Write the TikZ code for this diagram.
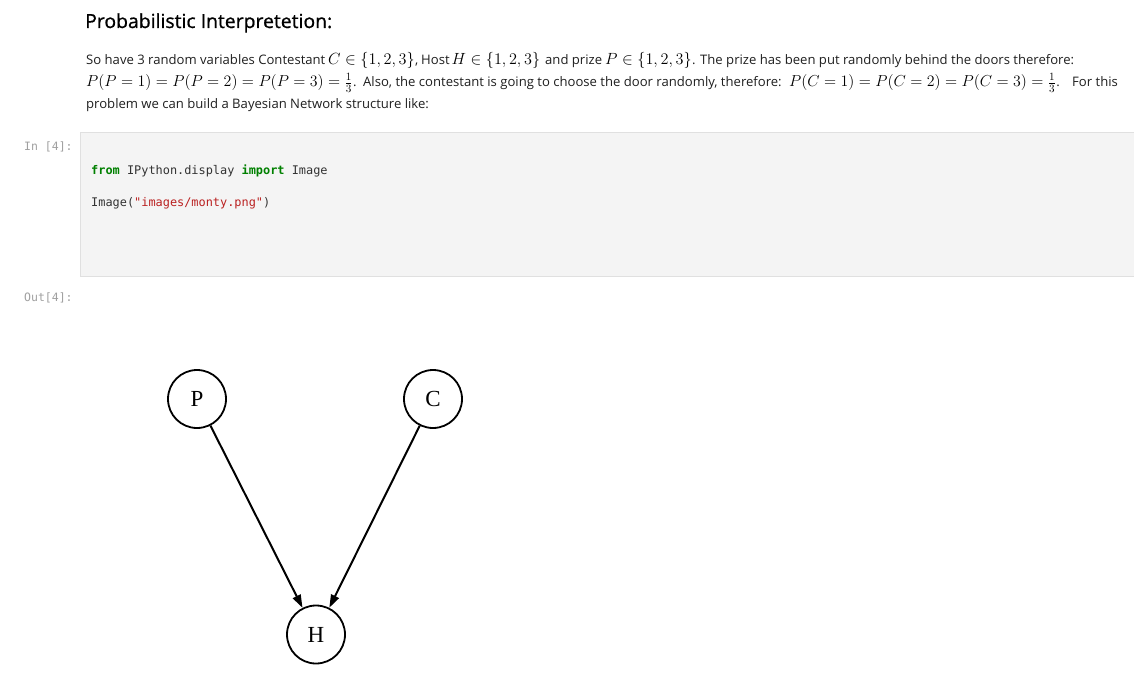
\RequirePackage{fix-cm}
\documentclass[tikz,border=0pt]{standalone}
\usepackage{fontspec}
\setmainfont{Open Sans}
\setmonofont{DejaVu Sans Mono}
\newfontfamily\nodefont{Liberation Serif}
\newfontfamily\titlefont[FakeBold=0.8]{Open Sans}
\usetikzlibrary{arrows.meta}
\definecolor{txt}{HTML}{1F1F1F}
\definecolor{prompt}{HTML}{A0A0A0}
\definecolor{cellbg}{HTML}{F4F4F4}
\definecolor{cellbd}{HTML}{E0E0E0}
\definecolor{kw}{HTML}{008000}
\definecolor{str}{HTML}{BA2121}
\definecolor{code}{HTML}{333333}
\tikzset{
  body/.style={anchor=base west, inner sep=0pt, text=txt, font=\fontsize{13.1}{16}\selectfont},
  mth/.style={anchor=base west, inner sep=0pt, text=black, font=\fontsize{16.2}{18}\selectfont},
  mthb/.style={anchor=base west, inner sep=0pt, text=black, font=\fontsize{15.9}{18}\selectfont},
  title/.style={anchor=base west, inner sep=0pt, text=black, font=\fontsize{19.4}{22}\titlefont},
  promptstyle/.style={anchor=base west, inner sep=0pt, text=prompt, font=\fontsize{11.5}{14}\ttfamily},
  codestyle/.style={anchor=base west, inner sep=0pt, text=code, font=\fontsize{11.9}{14}\ttfamily},
  var/.style={circle, draw=black, line width=1.8pt, minimum size=58pt, inner sep=0pt, font=\fontsize{23}{26}\nodefont},
  edge/.style={line width=2pt, -{Triangle[length=13pt,width=8.5pt]}}
}
\begin{document}
\begin{tikzpicture}[x=1pt,y=-1pt]
\fill[white] (0,0) rectangle (1134,695);
\useasboundingbox (0,0) rectangle (1134,695);
\node[title] (ttl) at (85,28) {Probabilistic Interpretetion:};
% line 1
\node[body] (a1) at (86,65) {So have 3 random variables Contestant};
\node[mth] (m1) at (328,65) {$C \in \{1,2,3\}$};
\node[body] (a2) at (m1.base east) {,};
\node[body] (a3) at (421,65) {Host};
\node[mth] (m2) at (451.5,65) {$H \in \{1,2,3\}$};
\node[body] (a4) at (545,65) {and prize};
\node[mth] (m3) at (605,65) {$P \in \{1,2,3\}$};
\node[body] (a5) at (m3.base east) {.};
\node[body] (a6) at (700,65) {The prize has been put randomly behind the doors therefore:};
% line 2
\node[mthb] (m4) at (86,87) {$P(P=1)=P(P=2)=P(P=3)=\frac{1}{3}$};
\node[body] (b1) at (m4.base east) {.};
\node[body] (b2) at (363,87) {Also, the contestant is going to choose the door randomly, therefore:};
\node[mthb] (m5) at (789,87) {$P(C=1)=P(C=2)=P(C=3)=\frac{1}{3}$};
\node[body] (b3) at (m5.base east) {.};
\node[body] (b4) at (1072,87) {For this};
% line 3
\node[body] (c0) at (86,108.5) {problem we can build a Bayesian Network structure like:};
% code cell
\node[promptstyle] (in) at (24,151) {In [4]:};
\draw[fill=cellbg, draw=cellbd, line width=0.8pt] (80.5,132.5) rectangle (1140,276);
\node[codestyle] (c1) at (91,175) {\textcolor{kw}{\textbf{from}} IPython.display \textcolor{kw}{\textbf{import}} Image};
\node[codestyle] (c2) at (91,207) {Image(\textcolor{str}{"images/monty.png"})};
\node[promptstyle] (out) at (24,301) {Out[4]:};
% network
\node[var] (P) at (197,399) {P};
\node[var] (C) at (433,399) {C};
\node[var] (H) at (316,634.5) {H};
\draw[edge] (P) -- (H);
\draw[edge] (C) -- (H);
\end{tikzpicture}
\end{document}
